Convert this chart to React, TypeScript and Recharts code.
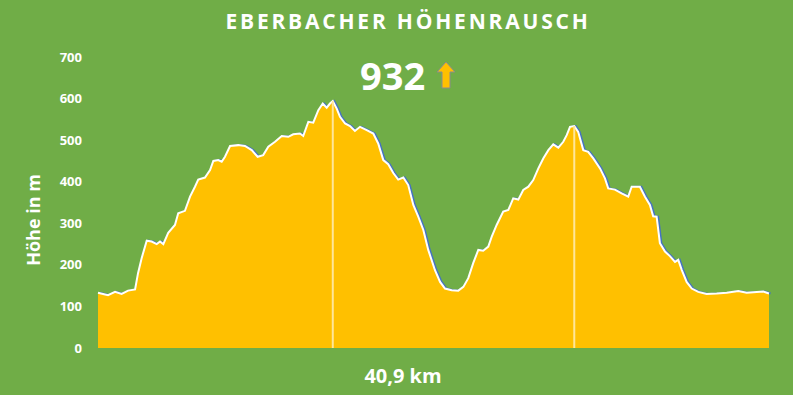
import { AreaChart, Area, XAxis, YAxis, ReferenceLine } from "recharts"

// distance along the route (km) and elevation (m)
const distanceKm = [
  0, 0.61, 1.04, 1.44, 1.83, 2.26, 2.44, 2.66, 2.97, 3.27, 3.58, 3.78, 3.98, 4.28, 4.69, 4.89,
  5.3, 5.61, 5.91, 6.11, 6.52, 6.83, 7.03, 7.33, 7.54, 7.74, 8.05, 8.55, 8.96, 9.37, 9.73, 10.07,
  10.38, 10.79, 11.2, 11.6, 11.9, 12.31, 12.51, 12.82, 13.12, 13.43, 13.7, 13.94, 14.14, 14.31,
  14.55, 14.75, 15.06, 15.36, 15.66, 15.97, 16.38, 16.78, 17.08, 17.39, 17.69, 18.0, 18.3, 18.61,
  18.91, 19.22, 19.52, 19.83, 20.13, 20.54, 20.85, 21.15, 21.56, 21.96, 22.27, 22.57, 22.87,
  23.18, 23.48, 23.79, 24.0, 24.3, 24.7, 25.01, 25.31, 25.62, 25.92, 26.23, 26.53, 26.84, 27.14,
  27.45, 27.75, 28.06, 28.36, 28.57, 28.77, 29.03, 29.27, 29.58, 29.88, 30.19, 30.6, 30.9, 31.1,
  31.51, 31.92, 32.32, 32.53, 33.03, 33.34, 33.64, 33.84, 34.05, 34.25, 34.56, 34.86, 35.17,
  35.37, 35.58, 35.88, 36.19, 36.59, 37.1, 37.71, 38.32, 39.03, 39.54, 40.15, 40.55, 40.9,
]
const elevation = [
  133, 127, 135, 130, 138, 141, 180, 216, 258, 256, 250, 256, 250, 277, 296, 324,
  330, 364, 388, 405, 410, 428, 450, 452, 448, 460, 486, 488, 486, 476, 460, 464,
  484, 496, 510, 508, 514, 516, 510, 544, 542, 572, 588, 578, 588, 594,
  576, 556, 540, 534, 522, 532, 524, 516, 492, 452, 442, 421, 405, 410,
  392, 344, 316, 284, 236, 187, 159, 143, 139, 138, 147, 168, 204,
  236, 234, 244, 268, 296, 328, 332, 360, 357, 380, 388, 404, 432, 456,
  476, 490, 482, 496, 512, 532, 534, 520, 476, 472, 456, 432, 408, 384,
  381, 372, 364, 388, 388, 364, 344, 317, 316, 252, 232, 221, 207,
  212, 188, 159, 143, 135, 130, 131, 133, 137, 133, 135, 136, 131,
]
const yTicks = [0, 100, 200, 300, 400, 500, 600, 700]
// summit markers (km, m)
const summits = [
  { km: 14.31, m: 594 },
  { km: 29.03, m: 534 },
]
const totalKm = "40,9 km"
const totalClimb = 932
const title = "EBERBACHER HÖHENRAUSCH"

const profile = distanceKm.map((km, i) => ({ km, m: elevation[i] }))

const font = "'Open Sans', sans-serif"

export default function App() {
  return (
    <div
      style={{
        position: "absolute",
        left: 0,
        top: 0,
        width: 793,
        height: 395,
        background: "#70AD47",
        fontFamily: font,
        color: "#fff",
        overflow: "hidden",
      }}
    >
      <AreaChart
        width={793}
        height={395}
        data={profile}
        margin={{ top: 57, right: 24, bottom: 47, left: 0 }}
      >
        <XAxis dataKey="km" type="number" domain={[0, 40.9]} hide />
        <YAxis
          type="number"
          domain={[0, 700]}
          ticks={yTicks}
          width={98}
          axisLine={false}
          tickLine={false}
          tickSize={0}
          tickMargin={16}
          tick={{ fill: "#fff", fontSize: 13, fontWeight: 700, fontFamily: font }}
        />
        {/* blue trace sits just behind the filled profile, peeking out on the descents */}
        <Area
          dataKey="m"
          type="linear"
          stroke="#4472C4"
          strokeWidth={2}
          fill="none"
          baseValue={0}
          isAnimationActive={false}
          style={{ transform: "translate(1.5px, 0px)" }}
        />
        <Area
          dataKey="m"
          type="linear"
          stroke="#fff"
          strokeWidth={2}
          fill="#FFC000"
          fillOpacity={1}
          baseValue={0}
          isAnimationActive={false}
        />
        {summits.map((s) => (
          <ReferenceLine
            key={s.km}
            segment={[
              { x: s.km, y: 0 },
              { x: s.km, y: s.m },
            ]}
            stroke="#FFE699"
            strokeWidth={2}
            ifOverflow="visible"
          />
        ))}
      </AreaChart>

      <div
        style={{
          position: "absolute",
          left: 0,
          width: 816,
          top: 7,
          textAlign: "center",
          fontSize: 21,
          fontWeight: 700,
          letterSpacing: 2.8,
        }}
      >
        {title}
      </div>
      <div
        style={{
          position: "absolute",
          left: 360,
          top: 50,
          fontSize: 38,
          fontWeight: 700,
          lineHeight: "50px",
        }}
      >
        {totalClimb}
      </div>
      <svg style={{ position: "absolute", left: 436, top: 61 }} width={22} height={30}>
        <polygon
          points="1,11 10,1 19,11 14,11 14,27 6,27 6,11"
          fill="#FFC000"
          stroke="#8C8C8C"
          strokeWidth={1}
        />
      </svg>
      <div
        style={{
          position: "absolute",
          left: 33,
          top: 220,
          transform: "translate(-50%, -50%) rotate(-90deg)",
          fontSize: 18,
          fontWeight: 700,
          whiteSpace: "nowrap",
        }}
      >
        Höhe in m
      </div>
      <div
        style={{
          position: "absolute",
          left: 0,
          width: 806,
          top: 362,
          textAlign: "center",
          fontSize: 20,
          fontWeight: 700,
        }}
      >
        {totalKm}
      </div>
    </div>
  )
}
